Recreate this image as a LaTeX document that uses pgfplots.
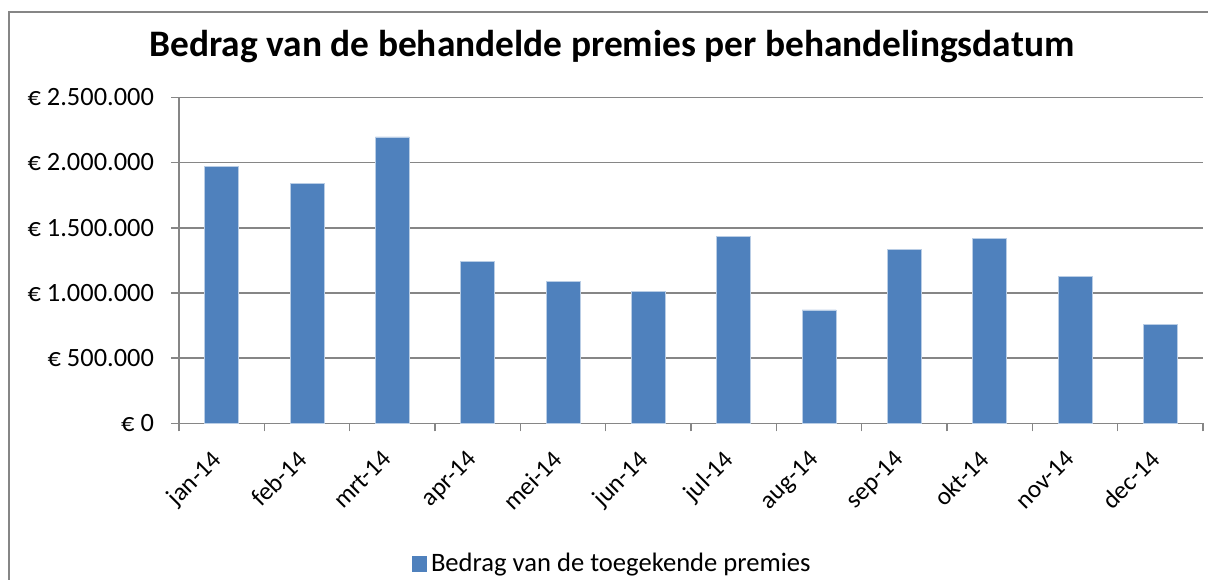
\documentclass[border=0pt]{standalone}
\usepackage{pgfplots}
\pgfplotsset{compat=1.18}
\usepackage{fontspec}
\setmainfont{Carlito}
\definecolor{barblue}{RGB}{79,129,189}
\definecolor{baredge}{RGB}{185,205,229}
\definecolor{gridgray}{RGB}{134,134,134}
\begin{document}
\begin{tikzpicture}
\useasboundingbox (0pt,0pt) rectangle (604pt,-289.5pt);
\begin{scope}
\clip (0pt,0pt) rectangle (604pt,-289.5pt);
\draw[gridgray, line width=0.8pt] (4.6pt,-6pt) rectangle (640pt,-320pt);
\end{scope}
\node[font=\fontsize{18.7}{22}\selectfont\bfseries] at (306pt,-23.5pt) {Bedrag van de behandelde premies per behandelingsdatum};
\begin{axis}[
  at={(89.5pt,-211.65pt)}, anchor=south west,
  scale only axis, width=512pt, height=163pt,
  ybar, bar width=17pt,
  xmin=-0.5, xmax=11.5, ymin=0, ymax=2500000,
  scaled y ticks=false,
  axis x line*=bottom, axis y line*=left,
  axis line style={gridgray, line width=0.8pt},
  xtick={-0.5,0.5,...,11.5}, xticklabels={},
  extra x ticks={0,1,...,11},
  extra x tick labels={jan-14,feb-14,mrt-14,apr-14,mei-14,jun-14,jul-14,aug-14,sep-14,okt-14,nov-14,dec-14},
  extra x tick style={major tick length=0pt, xticklabel style={font=\fontsize{12.6}{14}\selectfont, rotate=45, anchor=north east, xshift=-9.5pt, yshift=-1.5pt}},
  ytick={0,500000,1000000,1500000,2000000,2500000},
  yticklabels={€ 0,€ 500.000,€ 1.000.000,€ 1.500.000,€ 2.000.000,€ 2.500.000},
  tick align=outside, major tick length=4pt,
  tick style={gridgray, line width=0.8pt},
  ymajorgrids, grid style={gridgray, line width=0.8pt},
  yticklabel style={font=\fontsize{13.2}{15}\selectfont, xshift=-5pt},
  legend style={at={(0.424,-0.4316)}, anchor=center, draw=none, fill=none, font=\fontsize{13.3}{15}\selectfont, inner sep=0pt},
  legend image code/.code={\fill[barblue] (0pt,-3.6pt) rectangle (7.2pt,3.6pt);},
  clip=false,
]
\addplot[fill=barblue, draw=baredge, line width=0.4pt] coordinates {
(0,1973000) (1,1837000) (2,2196000) (3,1242000) (4,1089000) (5,1012000)
(6,1434000) (7,869000) (8,1334000) (9,1421000) (10,1124000) (11,759000)};
\addlegendentry{Bedrag van de toegekende premies}
\end{axis}
\end{tikzpicture}
\end{document}
